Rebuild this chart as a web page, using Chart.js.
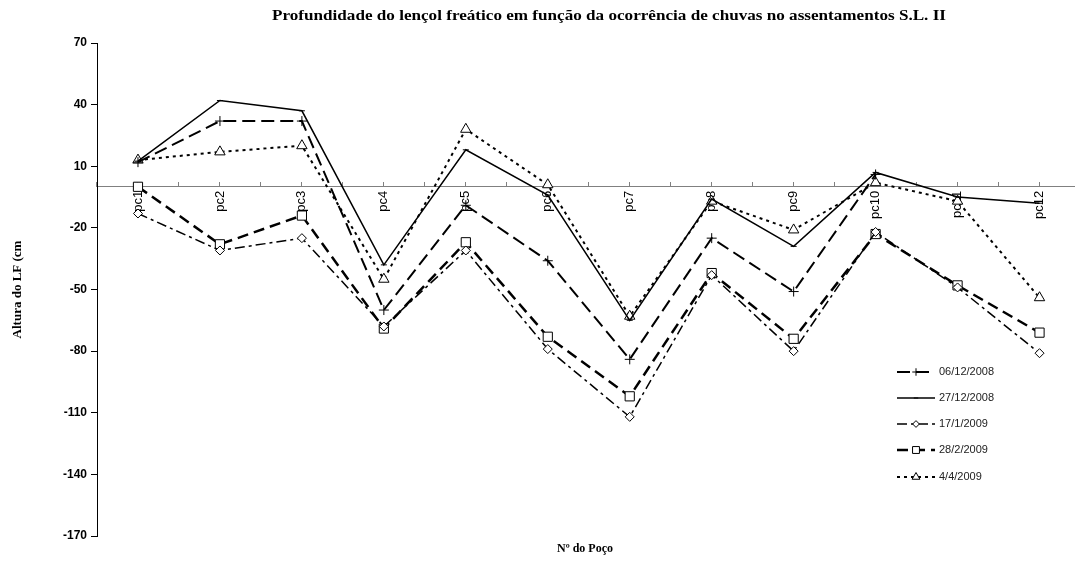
<!DOCTYPE html>
<html>
<head>
<meta charset="utf-8">
<script src="https://cdn.jsdelivr.net/npm/chart.js@4.4.1/dist/chart.umd.min.js"></script>
<style>
  html, body { margin: 0; padding: 0; background: #fff; }
  #wrap { width: 1075px; height: 561px; overflow: hidden; }
</style>
</head>
<body>
<div id="wrap"><canvas id="poco" width="1088" height="561"></canvas></div>
<script>
// Data
const wells = ['pc1', 'pc2', 'pc3', 'pc4', 'pc5', 'pc6', 'pc7', 'pc8', 'pc9', 'pc10', 'pc11', 'pc12'];
const dates = ['06/12/2008', '27/12/2008', '17/1/2009', '28/2/2009', '4/4/2009'];
const d061208 = [12, 32, 32, -60, -9, -36, -84, -25, -51, 6, null, null];
const d271208 = [12.5, 42, 37, -38, 18, -4, -65, -6, -29, 7, -5, -8];
const d170109 = [-13, -31, -25, -68, -31, -79, -112, -43, -80, -22, -49, -81];
const d280209 = [0, -28, -14, -69, -27, -73, -102, -42, -74, -23, -48, -71];
const d040409 = [13, 17, 20, -45, 28, 1, -63, -7, -21, 2, -7, -54];
const yTicks = [-170, -140, -110, -80, -50, -20, 10, 40, 70];

const chartTitle = 'Profundidade do lençol freático em função da ocorrência de chuvas no assentamentos S.L. II';
const xTitle = 'Nº do Poço';
const yTitle = 'Altura do LF (cm';

const serif = '"Liberation Serif", "Times New Roman", serif';
const sans = '"Liberation Sans", Arial, sans-serif';

function series(label, data, style) {
    return Object.assign({
        label: label,
        data: data,
        borderColor: '#000',
        backgroundColor: '#fff',
        pointBorderColor: '#000',
        pointBackgroundColor: '#fff',
        pointBorderWidth: 1,
        pointHoverRadius: 5,
        tension: 0,
        fill: false,
        spanGaps: false
    }, style);
}

// Title, x axis title and legend are drawn by hand to match the placement
const extras = {
    id: 'extras',
    afterDraw(chart) {
        const ctx = chart.ctx;
        ctx.save();
        ctx.fillStyle = '#000';
        ctx.textBaseline = 'middle';
        ctx.textAlign = 'center';
        // the title in the picture is a bit stretched sideways
        ctx.font = 'bold 14px ' + serif;
        const w = ctx.measureText(chartTitle).width;
        ctx.save();
        ctx.translate(609, 16);
        ctx.scale(674 / w, 1);
        ctx.fillText(chartTitle, 0, 0);
        ctx.restore();
        ctx.font = 'bold 12px ' + serif;
        ctx.fillText(xTitle, 585, 549);

        // legend
        const ys = [372, 398, 424, 450, 477];
        chart.data.datasets.forEach((ds, i) => {
            const y = ys[i];
            ctx.save();
            ctx.strokeStyle = '#000';
            ctx.lineWidth = ds.borderWidth;
            ctx.setLineDash(ds.borderDash || []);
            ctx.beginPath();
            ctx.moveTo(897, y);
            ctx.lineTo(935, y);
            ctx.stroke();
            ctx.setLineDash([]);
            ctx.fillStyle = '#fff';
            ctx.strokeStyle = '#000';
            ctx.lineWidth = 1;
            Chart.helpers.drawPoint(ctx, {
                pointStyle: ds.pointStyle,
                radius: ds.pointRadius * 0.75,
                rotation: 0,
                borderWidth: 1
            }, 916, y);
            ctx.restore();
            ctx.fillStyle = '#222';
            ctx.textAlign = 'left';
            ctx.font = '11px ' + sans;
            ctx.fillText(ds.label, 939, y);
        });
        ctx.restore();
    }
};

new Chart(document.getElementById('poco').getContext('2d'), {
    type: 'line',
    data: {
        labels: wells,
        datasets: [
            series(dates[0], d061208, { borderWidth: 2, borderDash: [13, 6], pointStyle: 'cross', pointRadius: 5 }),
            series(dates[1], d271208, { borderWidth: 1.5, pointStyle: 'line', pointRadius: 3 }),
            series(dates[2], d170109, { borderWidth: 1.5, borderDash: [10, 4, 3, 4], pointStyle: 'rectRot', pointRadius: 4.5 }),
            series(dates[3], d280209, { borderWidth: 2.5, borderDash: [11, 6], pointStyle: 'rect', pointRadius: 6.5 }),
            series(dates[4], d040409, { borderWidth: 2, borderDash: [3, 4], pointStyle: 'triangle', pointRadius: 6 })
        ]
    },
    options: {
        responsive: false,
        animation: false,
        layout: {
            padding: { top: 43, right: 1, bottom: 25, left: 0 }
        },
        plugins: {
            legend: { display: false },
            title: { display: false },
            tooltip: { enabled: false }
        },
        scales: {
            x: {
                type: 'category',
                position: { y: 0 },
                offset: true,
                grid: {
                    display: true,
                    drawOnChartArea: false,
                    drawTicks: true,
                    tickLength: -5,
                    color: '#808080',
                    offset: true
                },
                border: { display: true, color: '#808080', width: 1 },
                ticks: {
                    minRotation: 90,
                    maxRotation: 90,
                    autoSkip: false,
                    padding: 9,
                    color: '#000',
                    font: { family: sans, size: 13 }
                }
            },
            // second category axis only for the small marks at each well
            x2: {
                type: 'category',
                position: { y: 0 },
                offset: true,
                grid: {
                    display: true,
                    drawOnChartArea: false,
                    drawTicks: true,
                    tickLength: -5,
                    color: '#808080',
                    offset: false
                },
                border: { display: false },
                ticks: { display: false }
            },
            y: {
                min: -170,
                max: 70,
                afterBuildTicks: (scale) => {
                    scale.ticks = yTicks.map(v => ({ value: v }));
                },
                afterFit: (scale) => { scale.width = 97; },
                grid: {
                    drawOnChartArea: false,
                    drawTicks: true,
                    tickLength: 6,
                    color: '#000'
                },
                border: { display: true, color: '#000', width: 1 },
                ticks: {
                    padding: 4,
                    color: '#000',
                    font: { family: sans, size: 12, weight: 'bold' }
                },
                title: {
                    display: true,
                    text: yTitle,
                    color: '#000',
                    padding: { top: 10, bottom: 0 },
                    font: { family: serif, size: 13, weight: 'bold' }
                }
            }
        }
    },
    plugins: [extras]
});
</script>
</body>
</html>
